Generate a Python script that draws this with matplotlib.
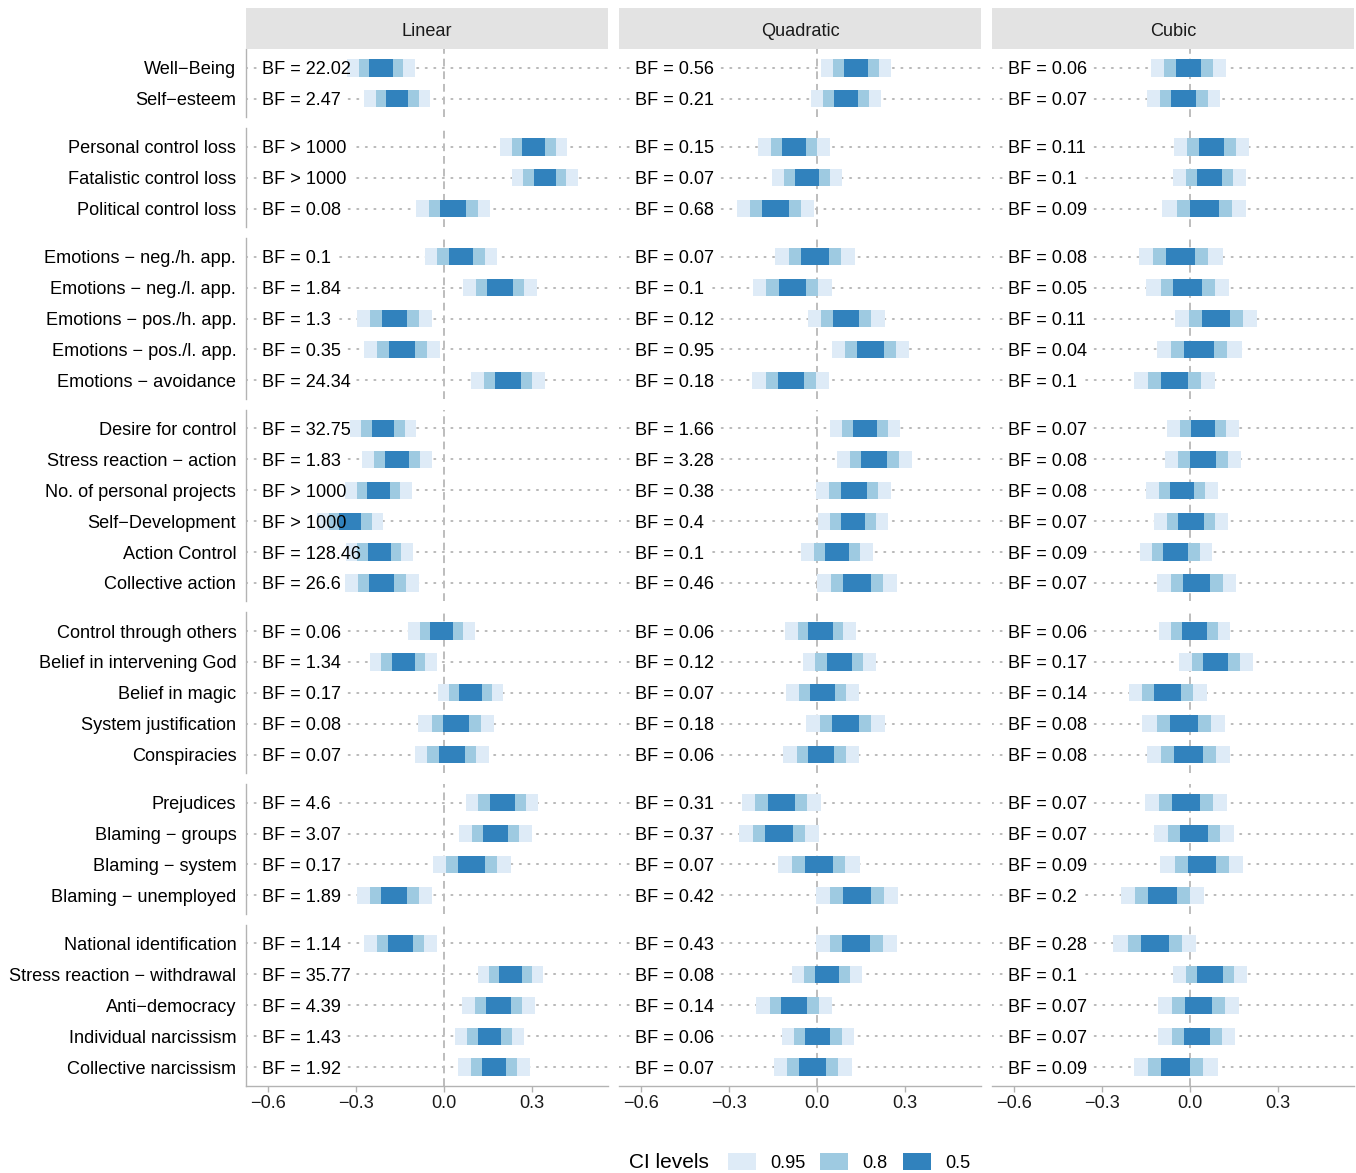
import matplotlib
matplotlib.use("Agg")
import matplotlib.pyplot as plt
from matplotlib.patches import Rectangle

plt.rcParams["font.family"] = ["Liberation Sans", "DejaVu Sans"]

# ---- data ---------------------------------------------------------------
models = ["Linear", "Quadratic", "Cubic"]

groups = [
    ["Well\u2212Being", "Self\u2212esteem"],
    ["Personal control loss", "Fatalistic control loss", "Political control loss"],
    ["Emotions \u2212 neg./h. app.", "Emotions \u2212 neg./l. app.",
     "Emotions \u2212 pos./h. app.", "Emotions \u2212 pos./l. app.",
     "Emotions \u2212 avoidance"],
    ["Desire for control", "Stress reaction \u2212 action",
     "No. of personal projects", "Self\u2212Development", "Action Control",
     "Collective action"],
    ["Control through others", "Belief in intervening God", "Belief in magic",
     "System justification", "Conspiracies"],
    ["Prejudices", "Blaming \u2212 groups", "Blaming \u2212 system",
     "Blaming \u2212 unemployed"],
    ["National identification", "Stress reaction \u2212 withdrawal",
     "Anti\u2212democracy", "Individual narcissism", "Collective narcissism"],
]

# posterior means of the effect (one value per outcome, in row order)
mean_linear = [-0.215, -0.160, 0.306, 0.344, 0.031,
               0.058, 0.191, -0.169, -0.144, 0.218,
               -0.208, -0.161, -0.223, -0.320, -0.221, -0.212,
               -0.008, -0.139, 0.090, 0.042, 0.027,
               0.198, 0.175, 0.095, -0.170,
               -0.149, 0.226, 0.185, 0.155, 0.170]
mean_quadratic = [0.132, 0.098, -0.078, -0.033, -0.141,
                  -0.007, -0.084, 0.099, 0.182, -0.089,
                  0.164, 0.195, 0.125, 0.123, 0.068, 0.136,
                  0.012, 0.076, 0.019, 0.097, 0.015,
                  -0.122, -0.130, 0.006, 0.136,
                  0.134, 0.035, -0.077, 0.003, -0.014]
mean_cubic = [-0.005, -0.022, 0.073, 0.066, 0.048,
              -0.031, -0.008, 0.089, 0.031, -0.053,
              0.044, 0.044, -0.027, 0.003, -0.048, 0.023,
              0.016, 0.088, -0.076, -0.021, -0.005,
              -0.014, 0.014, 0.040, -0.094,
              -0.120, 0.068, 0.029, 0.023, -0.049]

# posterior standard deviations
sd_linear = [0.059, 0.057, 0.058, 0.057, 0.065,
             0.063, 0.065, 0.065, 0.066, 0.065,
             0.058, 0.061, 0.058, 0.057, 0.058, 0.064,
             0.058, 0.058, 0.057, 0.066, 0.065,
             0.063, 0.063, 0.068, 0.065,
             0.063, 0.057, 0.063, 0.060, 0.062]
sd_quadratic = [0.061, 0.061, 0.062, 0.061, 0.067,
                0.069, 0.069, 0.067, 0.067, 0.067,
                0.061, 0.065, 0.065, 0.061, 0.062, 0.070,
                0.061, 0.064, 0.063, 0.068, 0.066,
                0.069, 0.070, 0.071, 0.072,
                0.070, 0.061, 0.066, 0.063, 0.068]
sd_cubic = [0.065, 0.064, 0.065, 0.063, 0.073,
            0.073, 0.072, 0.071, 0.074, 0.070,
            0.062, 0.066, 0.062, 0.064, 0.063, 0.069,
            0.062, 0.064, 0.068, 0.072, 0.072,
            0.071, 0.070, 0.072, 0.072,
            0.072, 0.064, 0.070, 0.067, 0.073]

# Bayes factors
bf_linear = ["22.02", "2.47", ">1000", ">1000", "0.08",
             "0.1", "1.84", "1.3", "0.35", "24.34",
             "32.75", "1.83", ">1000", ">1000", "128.46", "26.6",
             "0.06", "1.34", "0.17", "0.08", "0.07",
             "4.6", "3.07", "0.17", "1.89",
             "1.14", "35.77", "4.39", "1.43", "1.92"]
bf_quadratic = ["0.56", "0.21", "0.15", "0.07", "0.68",
                "0.07", "0.1", "0.12", "0.95", "0.18",
                "1.66", "3.28", "0.38", "0.4", "0.1", "0.46",
                "0.06", "0.12", "0.07", "0.18", "0.06",
                "0.31", "0.37", "0.07", "0.42",
                "0.43", "0.08", "0.14", "0.06", "0.07"]
bf_cubic = ["0.06", "0.07", "0.11", "0.1", "0.09",
            "0.08", "0.05", "0.11", "0.04", "0.1",
            "0.07", "0.08", "0.08", "0.07", "0.09", "0.07",
            "0.06", "0.17", "0.14", "0.08", "0.08",
            "0.07", "0.07", "0.09", "0.2",
            "0.28", "0.1", "0.07", "0.07", "0.09"]

ci_levels = ["0.95", "0.8", "0.5"]
ci_z = [1.959964, 1.281552, 0.674490]          # normal quantiles for each level
ci_colors = ["#DEEBF7", "#9ECAE1", "#3182BD"]

x_ticks = [-0.6, -0.3, 0.0, 0.3]
x_tick_labels = ["\u22120.6", "\u22120.3", "0.0", "0.3"]

means = [mean_linear, mean_quadratic, mean_cubic]
sds = [sd_linear, sd_quadratic, sd_cubic]
bfs = [bf_linear, bf_quadratic, bf_cubic]

# ---- layout (pixels) -----------------------------------------------------
W, H = 1356, 1173
fig = plt.figure(figsize=(W / 100, H / 100), dpi=100)

col_px = [(246, 608), (619, 981), (992, 1354)]
top_px, bottom_px, gap_px = 49.4, 1085.6, 11.0
n_rows = sum(len(g) for g in groups)
row_px = (bottom_px - top_px - gap_px * (len(groups) - 1)) / (n_rows + 0.2 * len(groups))

xlim = (-0.675, 0.559)
FS = 13.1
grid_col = "#b8b8b8"
axis_col = "#b3b3b3"


def bf_text(s):
    return "BF > 1000" if s.startswith(">") else "BF = " + s


for c, model in enumerate(models):
    x0, x1 = col_px[c]
    y_top = top_px
    idx = 0
    for g, labels in enumerate(groups):
        n = len(labels)
        h = (n + 0.2) * row_px
        ax = fig.add_axes([x0 / W, 1 - (y_top + h) / H, (x1 - x0) / W, h / H])
        ax.set_xlim(*xlim)
        ax.set_ylim(n - 0.4, -0.6)
        for s in ax.spines.values():
            s.set_visible(False)
        ax.set_facecolor("none")

        ys = list(range(n))
        # dotted guides for each row
        for y in ys:
            ax.plot(xlim, [y, y], color=grid_col, lw=1.4,
                    ls=(0, (0.6, 3.8)), dash_capstyle="round", zorder=1)
        # reference line at zero
        ax.axvline(0, color="#bdbdbd", lw=1.4, ls=(0, (4, 2.5)), zorder=1.2)

        for k, y in enumerate(ys):
            m = means[c][idx + k]
            sd = sds[c][idx + k]
            for z, col in zip(ci_z, ci_colors):
                ax.barh(y, 2 * z * sd, left=m - z * sd, height=0.56,
                        color=col, lw=0, zorder=3)
            label = bf_text(bfs[c][idx + k])
            # white backing under the label hides the guide dots
            ax.text(-0.62, y, label, ha="left", va="center_baseline",
                    fontsize=FS, color="white", zorder=2,
                    bbox=dict(boxstyle="square,pad=0.3", fc="white", ec="none"))
            ax.text(-0.62, y, label, ha="left", va="center_baseline",
                    fontsize=FS, color="black", zorder=5)

        if c == 0:
            ax.spines["left"].set_visible(True)
            ax.spines["left"].set_color(axis_col)
            ax.spines["left"].set_linewidth(1.0)
            ax.set_yticks(ys)
            ax.set_yticklabels(labels, fontsize=FS, color="black")
            ax.tick_params(axis="y", length=0, pad=7)
        else:
            ax.set_yticks([])

        if g == len(groups) - 1:
            ax.spines["bottom"].set_visible(True)
            ax.spines["bottom"].set_color(axis_col)
            ax.spines["bottom"].set_linewidth(1.0)
            ax.set_xticks(x_ticks)
            ax.set_xticklabels(x_tick_labels, fontsize=FS, color="#1a1a1a")
            ax.tick_params(axis="x", length=4, width=1.0, color=axis_col, pad=3)
        else:
            ax.set_xticks([])

        idx += n
        y_top += h + gap_px

    # facet strip
    fig.add_artist(Rectangle((x0 / W, 1 - 49.4 / H), (x1 - x0) / W, 41.4 / H,
                             transform=fig.transFigure, fc="#e3e3e3", ec="none"))
    fig.text((x0 + x1) / 2 / W, 1 - 29.5 / H, model, ha="center",
             va="center_baseline", fontsize=FS, color="#1a1a1a")

# ---- legend --------------------------------------------------------------
leg_y = 1161
fig.text(629 / W, 1 - leg_y / H, "CI levels", ha="left", va="center_baseline",
         fontsize=15.0, color="black")
key_x = [728, 820, 903]
for kx, lab, col in zip(key_x, ci_levels, ci_colors):
    fig.add_artist(Rectangle((kx / W, 1 - (leg_y + 8.5) / H), 28 / W, 17 / H,
                             transform=fig.transFigure, fc=col, ec="none"))
    fig.text((kx + 42) / W, 1 - leg_y / H, lab, ha="left", va="center_baseline",
             fontsize=FS, color="black")

fig.savefig("out.png", dpi=100)
